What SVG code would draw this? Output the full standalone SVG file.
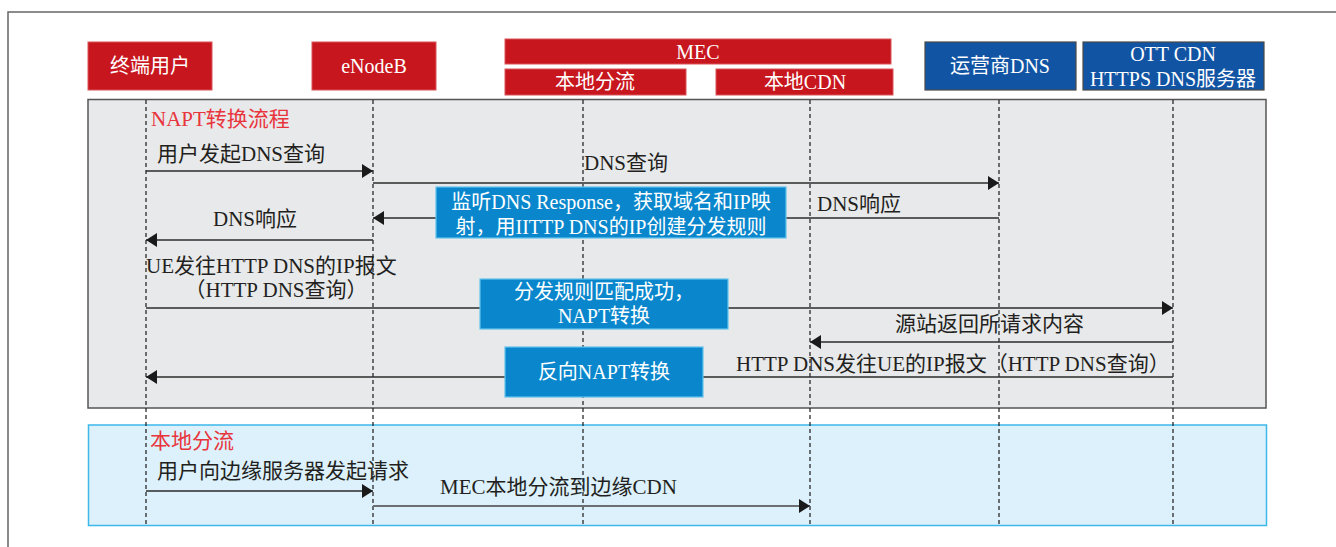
<svg xmlns="http://www.w3.org/2000/svg" width="1336" height="547" viewBox="0 0 1336 547">
<style>
text{font-family:"Liberation Serif","Noto Sans CJK SC",serif;}
.nred{fill:#C8161E;stroke:#D9545A;stroke-width:1;}
.nblue{fill:#1254A4;stroke:#4a4a4a;stroke-width:1.2;}
.ntxt{fill:#fff;font-size:20px;text-anchor:middle;}
.lbl{fill:#231F20;font-size:21px;}
.sec{fill:#E8343C;font-size:21px;}
.life{stroke:#1a1a1a;stroke-width:1.2;stroke-dasharray:4 3;fill:none;}
.msg{stroke:#2b2b2b;stroke-width:1.5;fill:none;}
.proc{fill:#0A87CC;stroke:#62C4EE;stroke-width:1.2;}
.ptxt{fill:#fff;font-size:20px;text-anchor:middle;}
</style>
<defs>
<marker id="ah" markerUnits="userSpaceOnUse" markerWidth="12" markerHeight="14" viewBox="0 0 11 14" refX="11" refY="7" orient="auto">
<path d="M0,0 L11,7 L0,14 z" fill="#1a1a1a"/>
</marker>
</defs>
<rect x="0" y="0" width="1336" height="547" fill="#fff"/>
<path d="M8,547 V12 H1336" fill="none" stroke="#666" stroke-width="1.5"/>
<rect id="panel-napt" x="88" y="99.5" width="1178" height="308.5" fill="#E8E9EB" stroke="#555" stroke-width="1.5"/>
<rect id="panel-local" x="88.5" y="425" width="1178" height="100.5" fill="#DCF1FB" stroke="#3DB8EA" stroke-width="1.5"/>
<g id="lifelines">
<line class="life" x1="146" y1="100" x2="146" y2="525"/>
<line class="life" x1="373" y1="100" x2="373" y2="525"/>
<line class="life" x1="583" y1="100" x2="583" y2="525"/>
<line class="life" x1="810" y1="100" x2="810" y2="525"/>
<line class="life" x1="999" y1="100" x2="999" y2="525"/>
<line class="life" x1="1173" y1="100" x2="1173" y2="525"/>
</g>
<g id="node-user"><rect class="nred" x="88" y="42" width="124" height="48"/><text class="ntxt" x="150" y="73">终端用户</text></g>
<g id="node-enodeb"><rect class="nred" x="312" y="42" width="124" height="48"/><text class="ntxt" x="374" y="73">eNodeB</text></g>
<g id="node-mec"><rect class="nred" x="505" y="39" width="386" height="25"/><text class="ntxt" x="698" y="59">MEC</text></g>
<g id="node-localbreakout"><rect class="nred" x="505" y="69" width="181" height="26"/><text class="ntxt" x="595" y="89">本地分流</text></g>
<g id="node-localcdn"><rect class="nred" x="716" y="69" width="177" height="26"/><text class="ntxt" x="805" y="89">本地CDN</text></g>
<g id="node-dns"><rect class="nblue" x="925" y="42" width="151" height="48"/><text class="ntxt" x="1000" y="73">运营商DNS</text></g>
<g id="node-ottcdn"><rect class="nblue" x="1083" y="42" width="181" height="48"/><text class="ntxt" x="1173" y="61">OTT CDN</text><text class="ntxt" x="1173" y="86">HTTPS DNS服务器</text></g>
<g id="connectors">
<line class="msg" x1="146" y1="171" x2="373" y2="171" marker-end="url(#ah)"/>
<line class="msg" x1="373" y1="183" x2="999" y2="183" marker-end="url(#ah)"/>
<line class="msg" x1="999" y1="218" x2="373" y2="218" marker-end="url(#ah)"/>
<line class="msg" x1="373" y1="240" x2="146" y2="240" marker-end="url(#ah)"/>
<line class="msg" x1="146" y1="308" x2="1173" y2="308" marker-end="url(#ah)"/>
<line class="msg" x1="1173" y1="342" x2="810" y2="342" marker-end="url(#ah)"/>
<line class="msg" x1="1173" y1="377" x2="146" y2="377" marker-end="url(#ah)"/>
<line class="msg" x1="146" y1="491" x2="373" y2="491" marker-end="url(#ah)"/>
<line x1="373" y1="506" x2="810" y2="506" stroke="#6D6E71" stroke-width="2" marker-end="url(#ah)"/>
</g>
<g id="labels">
<text class="sec" x="151" y="126">NAPT转换流程</text>
<text class="lbl" x="157" y="161">用户发起DNS查询</text>
<text class="lbl" x="584" y="170">DNS查询</text>
<text class="lbl" x="817" y="211">DNS响应</text>
<text class="lbl" x="213" y="226">DNS响应</text>
<text class="lbl" x="146" y="273">UE发往HTTP DNS的IP报文</text>
<text class="lbl" x="276" y="297" text-anchor="middle">（HTTP DNS查询）</text>
<text class="lbl" x="895" y="331">源站返回所请求内容</text>
<text class="lbl" x="736" y="371">HTTP DNS发往UE的IP报文（HTTP DNS查询）</text>
<text class="sec" x="150" y="448">本地分流</text>
<text class="lbl" x="157" y="478">用户向边缘服务器发起请求</text>
<text class="lbl" x="440" y="494">MEC本地分流到边缘CDN</text>
</g>
<g id="proc-listen"><rect class="proc" x="436" y="187" width="350" height="51"/><text class="ptxt" x="611" y="209">监听DNS Response，获取域名和IP映</text><text class="ptxt" x="611" y="234">射，用IITTP DNS的IP创建分发规则</text></g>
<g id="proc-match"><rect class="proc" x="480" y="279" width="248" height="50"/><text class="ptxt" x="604" y="299">分发规则匹配成功，</text><text class="ptxt" x="604" y="323">NAPT转换</text></g>
<g id="proc-reverse"><rect class="proc" x="505" y="347" width="198" height="50"/><text class="ptxt" x="604" y="379">反向NAPT转换</text></g>
</svg>
